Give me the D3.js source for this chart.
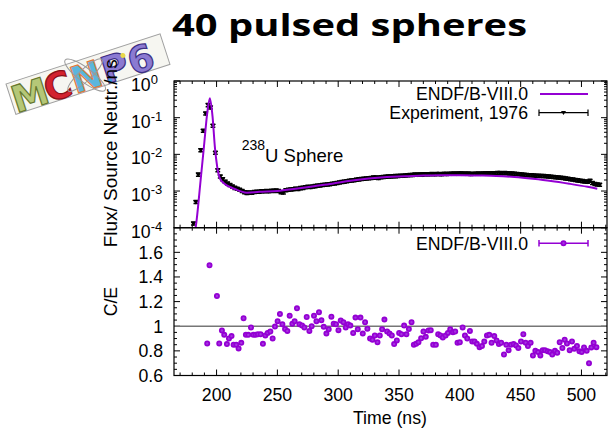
<!DOCTYPE html>
<html><head><meta charset="utf-8">
<script src="https://cdn.jsdelivr.net/npm/d3@7"></script>
<style>body{margin:0;background:#fff}svg{display:block}text{font-family:"Liberation Sans",Arial,Helvetica,sans-serif}</style>
</head><body><svg id="c" width="608" height="430"></svg>
<script>
const titleText = "40 pulsed spheres";
const xTickValues = [200,250,300,350,400,450,500];
const fluxExponents = [0,-1,-2,-3,-4];
const ceTickValues = [0.6,0.8,1,1.2,1.4,1.6];
const seriesNames = ["ENDF/B-VIII.0","Experiment, 1976"];
const sampleLabel = ["238","U Sphere"];

const expTime = [181,183,185,187,189,191,193,195,197,199,201,203,205,207,209,211,213,215,217,219,221,223,225,227,229,231,233,235,237,239,241,243,245,247,249,251,253,255,257,259,261,263,265,267,269,271,273,275,277,279,281,283,285,287,289,291,293,295,297,299,301,303,305,307,309,311,313,315,317,319,321,323,325,327,329,331,333,335,337,339,341,343,345,347,349,351,353,355,357,359,361,363,365,367,369,371,373,375,377,379,381,383,385,387,389,391,393,395,397,399,401,403,405,407,409,411,413,415,417,419,421,423,425,427,429,431,433,435,437,439,441,443,445,447,449,451,453,455,457,459,461,463,465,467,469,471,473,475,477,479,481,483,485,487,489,491,493,495,497,499,501,503,505,507,509,511,513,515];
const expFlux = [1.3e-4,5.0e-4,2.8e-3,1.3e-2,4.4e-2,0.13,0.22,0.19,0.06,0.011,3.7e-3,2.5e-3,2.1e-3,1.8e-3,1.6e-3,1.45e-3,1.33e-3,1.22e-3,1.15e-3,1.08e-3,1.0e-3,9.3e-4,8.9e-4,9.1e-4,9.0e-4,9.4e-4,9.6e-4,9.6e-4,9.9e-4,9.8e-4,1.0e-3,9.9e-4,1.02e-3,1.01e-3,1.03e-3,1.0e-3,9.3e-4,9.1e-4,1.05e-3,1.08e-3,1.1e-3,1.12e-3,1.16e-3,1.14e-3,1.2e-3,1.22e-3,1.26e-3,1.3e-3,1.28e-3,1.33e-3,1.36e-3,1.4e-3,1.42e-3,1.45e-3,1.48e-3,1.5e-3,1.54e-3,1.57e-3,1.61e-3,1.65e-3,1.7e-3,1.76e-3,1.8e-3,1.84e-3,1.9e-3,1.93e-3,1.98e-3,2.04e-3,2.08e-3,2.12e-3,2.15e-3,2.2e-3,2.24e-3,2.28e-3,2.32e-3,2.35e-3,2.28e-3,2.38e-3,2.42e-3,2.45e-3,2.48e-3,2.5e-3,2.52e-3,2.55e-3,2.58e-3,2.62e-3,2.6e-3,2.65e-3,2.7e-3,2.75e-3,2.72e-3,2.8e-3,2.78e-3,2.84e-3,2.8e-3,2.86e-3,2.88e-3,2.85e-3,2.9e-3,2.88e-3,2.9e-3,2.92e-3,2.88e-3,2.95e-3,2.92e-3,2.96e-3,2.94e-3,3.0e-3,2.96e-3,3.02e-3,2.98e-3,3.0e-3,2.95e-3,3.0e-3,2.92e-3,2.96e-3,2.94e-3,3.0e-3,2.96e-3,3.02e-3,2.98e-3,3.04e-3,3.0e-3,3.05e-3,3.02e-3,3.08e-3,3.1e-3,3.06e-3,3.12e-3,3.05e-3,3.0e-3,2.98e-3,2.94e-3,2.9e-3,2.86e-3,2.8e-3,2.76e-3,2.74e-3,2.7e-3,2.68e-3,2.65e-3,2.62e-3,2.6e-3,2.58e-3,2.56e-3,2.52e-3,2.48e-3,2.45e-3,2.42e-3,2.38e-3,2.34e-3,2.3e-3,2.26e-3,2.2e-3,2.15e-3,2.1e-3,2.05e-3,2.0e-3,1.95e-3,1.9e-3,1.86e-3,1.82e-3,1.78e-3,1.9e-3,1.65e-3,1.56e-3,1.5e-3,1.48e-3];

const modelTime = [179,183.6,186.9,189.6,192.3,194.5,196.7,198.6,200.5,202.7,205,208,212,216,220,225,235,250,265,280,295,310,325,340,355,370,385,400,415,430,445,460,475,490,505,513];
const modelFlux = [2e-5,1.6e-4,2.0e-3,1.6e-2,0.13,0.34,0.107,0.016,4.6e-3,2.2e-3,1.75e-3,1.45e-3,1.25e-3,1.1e-3,9.8e-4,9.0e-4,9.5e-4,1.0e-3,1.15e-3,1.35e-3,1.58e-3,1.9e-3,2.2e-3,2.42e-3,2.52e-3,2.64e-3,2.7e-3,2.7e-3,2.65e-3,2.58e-3,2.4e-3,2.15e-3,1.88e-3,1.58e-3,1.3e-3,1.15e-3];

const ceTime = [192.3,194.2,200.3,202.2,204.4,206.3,208.5,210.2,212.3,214,216.2,218.1,220.3,222.2,224.1,226.1,228.3,230.2,232.1,234,236.2,238.1,240.1,242,244.2,246.1,248,250.2,252.1,254.1,256.3,258.2,260.1,262.3,264.2,266.1,268.1,270.3,272.2,274.1,276.3,278.2,280.1,282.1,284.2,286.2,288.1,290.3,292.2,294.4,296.3,298.2,300.2,302.1,304.3,306.2,308.1,310,312.3,314.2,316.1,318.3,320.2,322.1,324,326.2,328.2,330.1,332.3,334.2,336.1,338,340.2,342.2,344.1,346,348.2,350.1,352,354.2,356.1,358.1,360.3,362.2,364.1,366,368.2,370.1,372,374.2,376.1,378.1,380.3,382.2,384.1,386,388.3,390.2,392.1,394.3,396.2,398.1,400,402.3,404.2,406.1,408.3,410.2,412.1,414,416.2,418.2,420.1,422.3,424.2,426.1,428.3,430.2,432.1,434,436.3,438.2,440.1,442,444.2,446.2,448.1,450.3,452.2,454.1,456,458.2,460.1,462.1,464.3,466.2,468.1,470,472.2,474.1,476,478.2,480.1,482.1,484.3,486.2,488.1,490.3,492.2,494.1,496.3,498.3,500.2,502.1,504.3,506.2,508.1,510,512.3];
const ceValue = [0.86,1.495,1.245,0.86,0.965,0.93,0.855,0.90,0.92,0.85,0.85,0.82,0.865,1.065,0.93,0.93,0.99,0.93,0.93,0.935,0.935,0.857,0.925,0.946,0.957,0.90,0.997,1.04,1.10,1.016,0.978,0.962,1.086,1.02,1.04,1.145,1.016,1.005,0.99,1.075,0.962,1.00,1.086,1.04,1.113,1.048,0.995,0.94,0.975,1.078,1.02,1.016,0.968,1.046,1.032,0.99,1.016,1.005,0.946,1.07,0.975,1.07,0.94,1.032,0.98,0.90,0.89,0.925,0.87,0.925,0.975,1.054,0.957,0.94,0.925,0.855,0.885,0.946,0.935,1.005,0.935,0.978,1.032,0.85,0.857,0.87,0.903,0.957,0.914,0.965,0.968,0.85,0.85,0.935,0.925,0.909,0.925,0.946,0.975,0.952,0.957,0.866,0.87,0.99,0.925,0.90,0.962,0.876,0.876,0.857,0.83,0.84,0.876,0.925,0.93,0.866,0.92,0.884,0.855,0.866,0.77,0.85,0.804,0.85,0.855,0.844,0.823,0.876,0.935,0.866,0.84,0.866,0.763,0.80,0.79,0.763,0.804,0.804,0.796,0.79,0.77,0.80,0.785,0.87,0.823,0.89,0.86,0.806,0.876,0.817,0.84,0.796,0.79,0.828,0.80,0.70,0.828,0.866,0.83];

const svg = d3.select("#c");
const L = 174, R = 607, T1 = 81, B1 = 227.7, B2 = 375.5;
const violet = "#9400d3";
const x = d3.scaleLinear().domain([165, 521]).range([L, R]);
const yF = d3.scaleLog().domain([1e-4, 1]).range([B1, T1]);
const yC = d3.scaleLinear().domain([0.6, 1.8]).range([B2, B1]);

// Logo (bottom layer)
const logo = svg.append("g").attr("transform", "translate(6,84) rotate(-18)");
logo.append("rect").attr("width", 162).attr("height", 32).attr("fill", "#f6f6f1").attr("stroke", "#a0a0a0").attr("stroke-width", 1);
const letters = [["M",1,"#b5c777","#66782e"],["C",35,"#d3222e","#8a1018"],["N",63,"#5bb6dc","#e07a3a"],["P",95,"#8b7ad2","#3c2f86"],["6",123,"#8b7ad2","#3c2f86"]];
logo.selectAll("text.lg").data(letters).join("text").attr("class","lg")
  .attr("x", d => d[1]).attr("y", 31).text(d => d[0])
  .style("font-family", "'DejaVu Sans',sans-serif").style("font-weight", 700).style("font-size", "37px")
  .attr("fill", d => d[2]).attr("stroke", d => d[3]).attr("stroke-width", 1.2);
logo.append("ellipse").attr("cx", 78).attr("cy", 16).attr("rx", 25).attr("ry", 7).attr("transform", "rotate(55,78,16)")
  .attr("fill", "none").attr("stroke", "#9a9a9a").attr("stroke-width", 1);
logo.append("ellipse").attr("cx", 78).attr("cy", 16).attr("rx", 23).attr("ry", 6).attr("transform", "rotate(-25,78,16)")
  .attr("fill", "none").attr("stroke", "#9a9a9a").attr("stroke-width", 1);
logo.append("circle").attr("cx", 120).attr("cy", 9).attr("r", 2.5).attr("fill", "#e8d84a");
logo.append("circle").attr("cx", 100).attr("cy", 29).attr("r", 2).attr("fill", "#3aa0e0");

// Title
svg.append("text").attr("x", 172).attr("y", 36).attr("textLength", 355).attr("lengthAdjust", "spacingAndGlyphs")
  .style("font-family", "'Open Sans',Lato,sans-serif").style("font-weight", 700).style("font-size", "31px")
  .text(titleText);

// Axis labels
svg.append("text").attr("transform", `translate(117,${(T1+B1)/2 - 1}) rotate(-90)`).attr("text-anchor", "middle")
  .style("font-size", "19px").text("Flux/ Source Neutr./ns");
svg.append("text").attr("transform", `translate(117,${(B1+B2)/2}) rotate(-90)`).attr("text-anchor", "middle")
  .style("font-size", "17.7px").text("C/E");
svg.append("text").attr("x", x(342.5)).attr("y", 424).attr("text-anchor", "middle").style("font-size", "17.7px").text("Time (ns)");

// Clip
const defs = svg.append("defs");
defs.append("clipPath").attr("id", "clipTop").append("rect").attr("x", L).attr("y", T1).attr("width", R-L).attr("height", B1-T1);
defs.append("clipPath").attr("id", "clipBot").append("rect").attr("x", L).attr("y", B1).attr("width", R-L).attr("height", B2-B1);

// Ticks
const tk = svg.append("g").attr("stroke", "#000").attr("stroke-width", 1);
function hTick(xp, yp, len) { tk.append("line").attr("x1", xp).attr("x2", xp + len).attr("y1", yp).attr("y2", yp); }
function vTick(xp, yp, len) { tk.append("line").attr("x1", xp).attr("x2", xp).attr("y1", yp).attr("y2", yp + len); }
fluxExponents.forEach(e => {
  const yy = yF(Math.pow(10, e));
  hTick(L, yy, 6); hTick(R, yy, -6);
  if (e < 0) for (let m = 2; m <= 9; m++) { const ym = yF(m * Math.pow(10, e)); hTick(L, ym, 3); hTick(R, ym, -3); }
});
for (let k = 0; k <= 24; k++) {
  const v = 0.6 + k * 0.05; const yy = yC(v); const major = k % 4 === 0;
  hTick(L, yy, major ? 6 : 3); hTick(R, yy, major ? -6 : -3);
}
for (let t = 170; t <= 520; t += 10) {
  const xx = x(t); const len = t % 50 === 0 ? 6 : 3;
  vTick(xx, T1, len); vTick(xx, B1, -len); vTick(xx, B1, len); vTick(xx, B2, -len);
}

// Tick labels
const fl = svg.append("g").style("font-size", "17.7px");
fluxExponents.forEach(e => {
  const t = fl.append("text").attr("x", 131).attr("y", yF(Math.pow(10, e)) + 10);
  t.append("tspan").text("10");
  t.append("tspan").attr("dy", -7).style("font-size", "13px").text(e === 0 ? "0" : "-" + Math.abs(e));
});
ceTickValues.forEach(v => {
  fl.append("text").attr("x", 163).attr("y", yC(v) + 6.3).attr("text-anchor", "end").text(d3.format("")(v));
});
xTickValues.forEach(v => {
  fl.append("text").attr("x", x(v)).attr("y", 401).attr("text-anchor", "middle").text(v);
});

// C/E = 1 line
svg.append("line").attr("x1", L).attr("x2", R).attr("y1", yC(1)).attr("y2", yC(1)).attr("stroke", "#767676").attr("stroke-width", 1.5);

// Experiment points with error bars
const expData = d3.range(Math.min(expTime.length, expFlux.length)).map(i => ({t: expTime[i], v: expFlux[i]}));
const eg = svg.append("g").attr("clip-path", "url(#clipTop)");
eg.selectAll("path.ex").data(expData).join("path").attr("class", "ex")
  .attr("d", d => {
    const xx = x(d.t), y1 = yF(d.v * 1.1), y2 = yF(d.v / 1.1);
    return `M${xx},${y1}V${y2}M${xx-2.4},${y1}H${xx+2.4}M${xx-2.4},${y2}H${xx+2.4}`;
  }).attr("stroke", "#000").attr("stroke-width", 1.5).attr("fill", "none");
eg.selectAll("path.tri").data(expData).join("path").attr("class", "tri")
  .attr("d", d => { const xx = x(d.t), yy = yF(d.v); return `M${xx-2.8},${yy-1.8}H${xx+2.8}L${xx},${yy+2.5}Z`; })
  .attr("fill", "#000");

// Model line
const mData = d3.range(modelTime.length).map(i => ({t: modelTime[i], v: modelFlux[i]}));
svg.append("g").attr("clip-path", "url(#clipTop)").append("path").datum(mData)
  .attr("d", d3.line().x(d => x(d.t)).y(d => yF(d.v)).curve(d3.curveMonotoneX))
  .attr("fill", "none").attr("stroke", violet).attr("stroke-width", 2);

// C/E points
const ceData = d3.range(ceTime.length).map(i => ({t: ceTime[i], v: ceValue[i]}));
svg.append("g").attr("clip-path", "url(#clipBot)").selectAll("circle").data(ceData).join("circle")
  .attr("cx", d => x(d.t)).attr("cy", d => yC(d.v)).attr("r", 2.1)
  .attr("fill", "#a535e2").attr("stroke", violet).attr("stroke-width", 1.8);

// Frames
svg.append("rect").attr("x", L).attr("y", T1).attr("width", R-L).attr("height", B1-T1).attr("fill", "none").attr("stroke", "#000").attr("stroke-width", 1.2);
svg.append("rect").attr("x", L).attr("y", B1).attr("width", R-L).attr("height", B2-B1).attr("fill", "none").attr("stroke", "#000").attr("stroke-width", 1.2);

// Sample label
const sl = svg.append("text").attr("x", 241.7).attr("y", 161.7).style("font-size", "18.5px");
sl.append("tspan").attr("dy", -11.5).style("font-size", "14px").text(sampleLabel[0]);
sl.append("tspan").attr("dy", 11.5).text(sampleLabel[1]);

// Legends
const lg = svg.append("g").style("font-size", "17.7px");
lg.append("text").attr("x", 528).attr("y", 100.3).attr("text-anchor", "end").text(seriesNames[0]);
lg.append("line").attr("x1", 540).attr("x2", 588).attr("y1", 94).attr("y2", 94).attr("stroke", violet).attr("stroke-width", 2);
lg.append("text").attr("x", 528).attr("y", 119).attr("text-anchor", "end").text(seriesNames[1]);
lg.append("path").attr("d", "M539,112.7H588M539,109.5V116M588,109.5V116").attr("stroke", "#000").attr("stroke-width", 1.2).attr("fill", "none");
lg.append("path").attr("d", "M561,110.9H566L563.5,115Z").attr("fill", "#000");
lg.append("text").attr("x", 528).attr("y", 249.5).attr("text-anchor", "end").text(seriesNames[0]);
lg.append("path").attr("d", "M539,243.3H588M539,240V246.5M588,240V246.5").attr("stroke", violet).attr("stroke-width", 1.5).attr("fill", "none");
lg.append("circle").attr("cx", 563.5).attr("cy", 243.3).attr("r", 2.1).attr("fill", "#a535e2").attr("stroke", violet).attr("stroke-width", 1.8);
</script></body></html>
